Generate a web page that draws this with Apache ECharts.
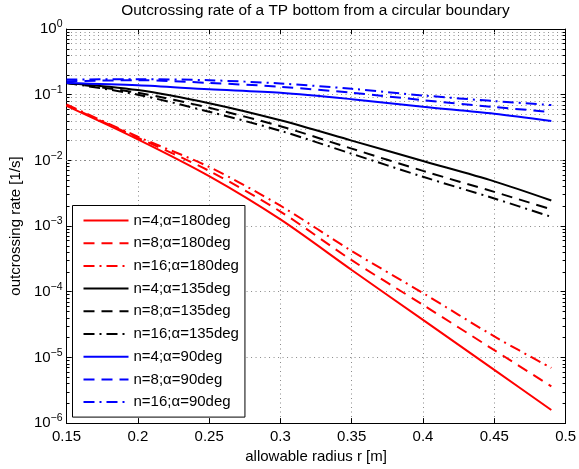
<!DOCTYPE html>
<html>
<head>
<meta charset="utf-8">
<script src="https://cdn.jsdelivr.net/npm/echarts@6/dist/echarts.min.js"></script>
<style>
html,body{margin:0;padding:0;background:#fff;}
#chart{width:579px;height:469px;}
</style>
</head>
<body>
<div id="chart"></div>
<script>
const titleText = 'Outcrossing rate of a TP bottom from a circular boundary';
const xLabel = 'allowable radius r [m]';
const yLabel = 'outcrossing rate [1/s]';

const radius = [0.15, 0.2, 0.25, 0.3, 0.35, 0.4, 0.45, 0.49];

const n4a180  = [0.0676, 0.0209, 0.00575, 0.00126, 2.14e-4, 3.72e-5, 6.46e-6, 1.58e-6];
const n8a180  = [0.0692, 0.0221, 0.00692, 0.00166, 3.02e-4, 6.31e-5, 1.29e-5, 3.63e-6];
const n16a180 = [0.0708, 0.0229, 0.00794, 0.00204, 4.17e-4, 9.55e-5, 2.09e-5, 6.92e-6];
const n4a135  = [0.151, 0.1175, 0.0741, 0.0407, 0.0200, 0.00977, 0.00479, 0.00245];
const n8a135  = [0.151, 0.107, 0.0631, 0.0331, 0.0151, 0.00692, 0.00331, 0.0018];
const n16a135 = [0.151, 0.100, 0.0550, 0.0282, 0.0126, 0.00562, 0.00263, 0.00138];
const n4a90   = [0.151, 0.139, 0.121, 0.107, 0.0855, 0.0656, 0.0514, 0.0398];
const n8a90   = [0.160, 0.166, 0.151, 0.132, 0.107, 0.0826, 0.0649, 0.0545];
const n16a90  = [0.170, 0.172, 0.166, 0.148, 0.123, 0.0973, 0.0798, 0.0695];

const seriesNames = [
  'n=4;α=180deg','n=8;α=180deg','n=16;α=180deg',
  'n=4;α=135deg','n=8;α=135deg','n=16;α=135deg',
  'n=4;α=90deg','n=8;α=90deg','n=16;α=90deg'
];
const seriesData = [n4a180, n8a180, n16a180, n4a135, n8a135, n16a135, n4a90, n8a90, n16a90];
const seriesColors = ['#ff0000','#ff0000','#ff0000','#000000','#000000','#000000','#0000ff','#0000ff','#0000ff'];
const dashStyles = ['solid',[11,7],[11,5,2,5],'solid',[11,7],[11,5,2,5],'solid',[11,7],[11,5,2,5]];

const xTicks = { min: 0.15, max: 0.5, interval: 0.05 };
const yDecades = [-6, -5, -4, -3, -2, -1];
const yMinorMult = [2,3,4,5,6,7,8,9];

const FONT = '"Liberation Sans", Arial, Helvetica, sans-serif';
const gridDot = { color: '#8a8a8a', width: 1, type: [1, 3.5] };

const minorValues = [];
yDecades.forEach(e => yMinorMult.forEach(m => minorValues.push(m * Math.pow(10, e))));
const minorLines = minorValues.map(v => ({ yAxis: v }));
// short minor tick marks on left and right frame edges (~3px)
const tickLen = (xTicks.max - xTicks.min) * 3 / 503;
const minorTicks = [];
minorValues.forEach(v => {
  minorTicks.push([{ coord: [xTicks.min, v] }, { coord: [xTicks.min + tickLen, v] }]);
  minorTicks.push([{ coord: [xTicks.max - tickLen, v] }, { coord: [xTicks.max, v] }]);
});

const series = seriesNames.map((name, i) => ({
  name: name,
  type: 'line',
  xAxisIndex: 0,
  yAxisIndex: 0,
  data: radius.map((r, k) => [r, seriesData[i][k]]),
  symbol: 'none',
  smooth: 0.3,
  color: seriesColors[i],
  lineStyle: { color: seriesColors[i], width: 2, type: dashStyles[i] },
  z: 5
}));
series.push({
  name: 'minorgrid',
  type: 'line',
  data: [],
  silent: true,
  markLine: {
    silent: true,
    symbol: ['none','none'],
    label: { show: false },
    lineStyle: gridDot,
    emphasis: { disabled: true },
    animation: false,
    data: minorLines
  },
  z: 1
});
series.push({
  name: 'minorticks',
  type: 'line',
  data: [],
  silent: true,
  markLine: {
    silent: true,
    symbol: ['none','none'],
    label: { show: false },
    lineStyle: { color: '#000', width: 1, type: 'solid' },
    emphasis: { disabled: true },
    animation: false,
    data: minorTicks
  },
  z: 6
});

const chart = echarts.init(document.getElementById('chart'), null, { renderer: 'canvas' });
chart.setOption({
  animation: false,
  backgroundColor: '#fff',
  textStyle: { fontFamily: FONT },
  title: {
    text: titleText,
    left: 315.5,
    textAlign: 'center',
    top: 3,
    padding: 0,
    textStyle: { fontFamily: FONT, fontSize: 15.4, fontWeight: 'normal', color: '#000' }
  },
  grid: { left: 64, right: 12, top: 29, bottom: 44, show: false },
  legend: {
    data: seriesNames,
    orient: 'vertical',
    left: 72.5,
    top: 205.5,
    itemWidth: 45,
    itemHeight: 14,
    itemGap: 7.7,
    padding: [7.5, 6, 7.5, 10],
    backgroundColor: '#fff',
    borderColor: '#000',
    borderWidth: 1,
    selectedMode: false,
    itemStyle: { opacity: 0 },
    textStyle: { fontFamily: FONT, fontSize: 15, color: '#000', lineHeight: 15 }
  },
  xAxis: [{
    type: 'value',
    min: xTicks.min, max: xTicks.max, interval: xTicks.interval,
    position: 'bottom',
    name: xLabel, nameLocation: 'middle', nameGap: 24,
    nameTextStyle: { fontFamily: FONT, fontSize: 15, color: '#000' },
    axisLine: { show: true, onZero: false, lineStyle: { color: '#000', width: 1 } },
    axisTick: { show: true, inside: true, length: 5, lineStyle: { color: '#000' } },
    axisLabel: { fontFamily: FONT, fontSize: 15, color: '#000', margin: 6,
      formatter: v => String(+v.toFixed(2)) },
    splitLine: { show: true, lineStyle: gridDot }
  }, {
    type: 'value',
    min: xTicks.min, max: xTicks.max, interval: xTicks.interval,
    position: 'top',
    axisLine: { show: true, onZero: false, lineStyle: { color: '#000', width: 1 } },
    axisTick: { show: true, inside: true, length: 5, lineStyle: { color: '#000' } },
    axisLabel: { show: false },
    splitLine: { show: false }
  }],
  yAxis: [{
    type: 'log', logBase: 10, min: 1e-6, max: 1,
    position: 'left',
    name: yLabel, nameLocation: 'middle', nameGap: 37,
    nameTextStyle: { fontFamily: FONT, fontSize: 15, color: '#000' },
    axisLine: { show: true, onZero: false, lineStyle: { color: '#000', width: 1 } },
    axisTick: { show: true, inside: true, length: 5, lineStyle: { color: '#000' } },
    axisLabel: {
      fontFamily: FONT, color: '#000', margin: 4,
      formatter: v => {
        const e = Math.round(Math.log10(v));
        return '{b|10}{s|' + (e < 0 ? '\u2212' + (-e) : String(e)) + '}';
      },
      rich: {
        b: { fontFamily: FONT, fontSize: 15, color: '#000' },
        s: { fontFamily: FONT, fontSize: 10.5, color: '#000', padding: [0, 0, 9, 0] }
      }
    },
    splitLine: { show: true, lineStyle: gridDot }
  }, {
    type: 'log', logBase: 10, min: 1e-6, max: 1,
    position: 'right',
    axisLine: { show: true, onZero: false, lineStyle: { color: '#000', width: 1 } },
    axisTick: { show: true, inside: true, length: 5, lineStyle: { color: '#000' } },
    axisLabel: { show: false },
    splitLine: { show: false }
  }],
  series: series
});
</script>
</body>
</html>
